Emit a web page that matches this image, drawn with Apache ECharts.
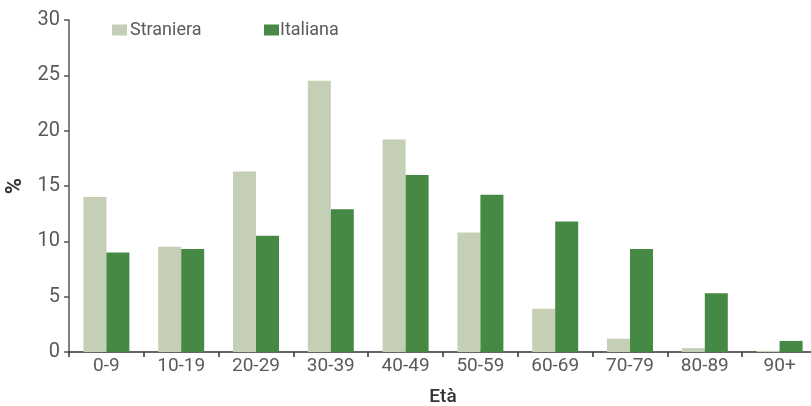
<!DOCTYPE html>
<html><head><meta charset="utf-8">
<script src="https://cdn.jsdelivr.net/npm/echarts@6/dist/echarts.min.js"></script>
<style>html,body{margin:0;padding:0;background:#fff}#c{width:811px;height:406px}</style>
</head><body><div id="c"></div>
<script>
const categories = ['0-9','10-19','20-29','30-39','40-49','50-59','60-69','70-79','80-89','90+'];
const straniera = [14.0, 9.5, 16.3, 24.5, 19.2, 10.8, 3.9, 1.2, 0.35, 0.1];
const italiana = [9.0, 9.3, 10.5, 12.9, 16.0, 14.2, 11.8, 9.3, 5.3, 1.0];
const yTicks = [0, 5, 10, 15, 20, 25, 30];

const FONT = 'Roboto';
const TXT = '#5a5a5a';
const chart = echarts.init(document.getElementById('c'), null, {renderer: 'canvas'});
chart.setOption({
  animation: false,
  textStyle: {fontFamily: FONT},
  grid: {left: 69, top: 20, width: 748, height: 332, containLabel: false, outerBoundsMode: 'none'},
  legend: [
    {left: 107, top: 16, itemWidth: 15, itemHeight: 11, itemGap: 4, data: ['Straniera'],
     textStyle: {fontFamily: FONT, fontSize: 18, color: TXT, padding: [0,0,0,-2]}, icon: 'rect'},
    {left: 259, top: 16, itemWidth: 15, itemHeight: 11, itemGap: 4, data: ['Italiana'],
     textStyle: {fontFamily: FONT, fontSize: 18, color: TXT, padding: [0,0,0,-4]}, icon: 'rect'}
  ],
  xAxis: {
    type: 'category', data: categories,
    name: 'Età', nameLocation: 'middle', nameGap: 36,
    nameTextStyle: {fontFamily: FONT, fontSize: 19, color: '#333', fontWeight: 500},
    axisLine: {lineStyle: {color: '#333', width: 1.5}},
    axisTick: {show: true, inside: false, length: 5, alignWithLabel: false, lineStyle: {color: '#333', width: 1.5}},
    axisLabel: {fontFamily: FONT, fontSize: 19, color: TXT, margin: 5}
  },
  yAxis: {
    type: 'value', min: yTicks[0], max: yTicks[yTicks.length-1], interval: 5,
    name: '%', nameLocation: 'middle', nameGap: 37, nameRotate: 90,
    nameTextStyle: {fontFamily: FONT, fontSize: 22, color: '#333', fontWeight: 'bold'},
    axisLine: {show: true, lineStyle: {color: '#555', width: 1.5}},
    axisTick: {show: true, length: 5, lineStyle: {color: '#555', width: 1.5}},
    axisLabel: {fontFamily: FONT, fontSize: 20, color: TXT, margin: 9},
    splitLine: {show: false}
  },
  series: [
    {name: 'Straniera', type: 'bar', data: straniera, barWidth: 23, barGap: '0%',
     itemStyle: {color: '#c5cfb6'}},
    {name: 'Italiana', type: 'bar', data: italiana, barWidth: 23, barGap: '0%',
     itemStyle: {color: '#458945'}}
  ]
});
</script></body></html>
